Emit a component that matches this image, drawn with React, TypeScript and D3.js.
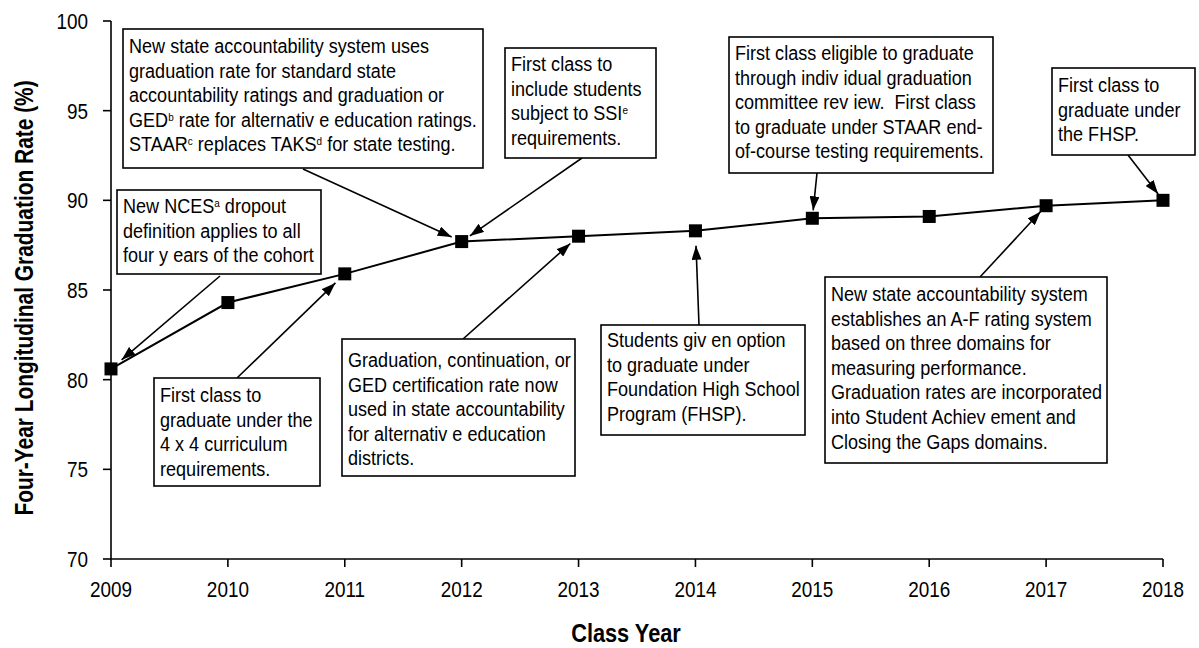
import React from "react";
import * as d3 from "d3";

const years = [2009, 2010, 2011, 2012, 2013, 2014, 2015, 2016, 2017, 2018];
const rates = [80.6, 84.3, 85.9, 87.7, 88.0, 88.3, 89.0, 89.1, 89.7, 90.0];
const yTicks = [70, 75, 80, 85, 90, 95, 100];
const xTitle = "Class Year";
const yTitle = "Four-Year Longitudinal Graduation Rate (%)";

const noteNCES = ["New NCES^a dropout", "definition applies to all", "four y ears of the cohort"];
const note4x4 = ["First class to", "graduate under the", "4 x 4 curriculum", "requirements."];
const noteAcct2012 = [
  "New state accountability system uses",
  "graduation rate for standard state",
  "accountability ratings and graduation or",
  "GED^b rate for alternativ e education ratings.",
  "STAAR^c replaces TAKS^d for state testing.",
];
const noteSSI = ["First class to", "include students", "subject to SSI^e", "requirements."];
const noteAltEd = [
  "Graduation, continuation, or",
  "GED certification rate now",
  "used in state accountability",
  "for alternativ e education",
  "districts.",
];
const noteOption = ["Students giv en option", "to graduate under", "Foundation High School", "Program (FHSP)."];
const noteIGC = [
  "First class eligible to graduate",
  "through indiv idual graduation",
  "committee rev iew.  First class",
  "to graduate under STAAR end-",
  "of-course testing requirements.",
];
const noteAF = [
  "New state accountability system",
  "establishes an A-F rating system",
  "based on three domains for",
  "measuring performance.",
  "Graduation rates are incorporated",
  "into Student Achiev ement and",
  "Closing the Gaps domains.",
];
const noteFHSP = ["First class to", "graduate under", "the FHSP."];

// layout (pixels) for annotation boxes and arrow start points
const layout = [
  { lines: noteNCES, year: 2009, box: [117, 190, 321, 274], y0: 213, from: [220, 276], gap: 14 },
  { lines: note4x4, year: 2011, box: [154, 378, 320, 486], y0: 402, from: [237, 378], gap: 13 },
  { lines: noteAcct2012, year: 2012, box: [123, 29, 483, 168], y0: 53, from: [303, 169], gap: 11 },
  { lines: noteSSI, year: 2012, box: [505, 48, 656, 158], y0: 71, from: [582, 158], gap: 10 },
  { lines: noteAltEd, year: 2013, box: [342, 339, 575, 476], y0: 367, from: [463, 339], gap: 11 },
  { lines: noteOption, year: 2014, box: [601, 325, 805, 435], y0: 347, from: [699, 325], gap: 15 },
  { lines: noteIGC, year: 2015, box: [729, 37, 993, 173], y0: 60, from: [817, 173], gap: 8 },
  { lines: noteAF, year: 2017, box: [825, 277, 1107, 463], y0: 301, from: [980, 277], gap: 8 },
  { lines: noteFHSP, year: 2018, box: [1052, 68, 1195, 155], y0: 92, from: [1128, 155], gap: 8 },
];

const FONT = "'Liberation Sans', Arial, Helvetica, sans-serif";
const SX = 0.86;

function Sup({ line, size }: { line: string; size: number }) {
  const parts = line.split(/\^(\w)/);
  const out: React.ReactNode[] = [];
  let shifted = false;
  parts.forEach((p, i) => {
    if (i % 2 === 1) {
      out.push(
        <tspan key={i} dy={-6} fontSize={size * 0.55}>
          {p}
        </tspan>
      );
      shifted = true;
    } else if (p.length) {
      out.push(
        <tspan key={i} dy={shifted ? 6 : 0}>
          {p}
        </tspan>
      );
      shifted = false;
    }
  });
  return <>{out}</>;
}

export default function App() {
  const W = 1199;
  const H = 648;
  const x = d3.scaleLinear().domain([2009, 2018]).range([111, 1163]);
  const y = d3.scaleLinear().domain([70, 100]).range([559, 21]);
  const line = d3
    .line<number>()
    .x((_, i) => x(years[i]))
    .y((d) => y(d));
  const ms = 13;
  const lh = 24.6;
  const fs = 21;

  return (
    <svg
      width={W}
      height={H}
      style={{ position: "absolute", left: 0, top: 0, background: "#fff" }}
      fontFamily={FONT}
    >
      <defs>
        <marker
          id="ah"
          viewBox="0 0 14 10"
          refX={14}
          refY={5}
          markerWidth={14}
          markerHeight={10}
          markerUnits="userSpaceOnUse"
          orient="auto"
        >
          <path d="M0,0 L14,5 L0,10 Z" fill="#000" />
        </marker>
      </defs>

      {/* axes */}
      <line x1={x(2009)} x2={x(2009)} y1={y(100)} y2={y(70)} stroke="#000" strokeWidth={1.6} />
      <line x1={x(2009)} x2={x(2018)} y1={y(70)} y2={y(70)} stroke="#000" strokeWidth={1.6} />
      {yTicks.map((t) => (
        <g key={t}>
          <line x1={x(2009) - 8} x2={x(2009)} y1={y(t)} y2={y(t)} stroke="#000" strokeWidth={1.6} />
          <text
            transform={`translate(${88},${y(t) + 8}) scale(${SX},1)`}
            textAnchor="end"
            fontSize={22}
            fill="#000"
          >
            {t}
          </text>
        </g>
      ))}
      {years.map((yr) => (
        <g key={yr}>
          <line x1={x(yr)} x2={x(yr)} y1={y(70)} y2={y(70) + 8} stroke="#000" strokeWidth={1.6} />
          <text
            transform={`translate(${x(yr)},${597}) scale(${SX},1)`}
            textAnchor="middle"
            fontSize={22}
            fill="#000"
          >
            {String(yr)}
          </text>
        </g>
      ))}
      <text
        transform={`translate(${(x(2009) + x(2018)) / 2 - 11},${642}) scale(0.87,1)`}
        textAnchor="middle"
        fontSize={25}
        fontWeight="bold"
        fill="#000"
      >
        {xTitle}
      </text>
      <text
        transform={`translate(${33},${298}) rotate(-90) scale(0.82,1)`}
        textAnchor="middle"
        fontSize={25.5}
        fontWeight="bold"
        fill="#000"
      >
        {yTitle}
      </text>

      {/* data */}
      <path d={line(rates) || ""} fill="none" stroke="#000" strokeWidth={2} />
      {rates.map((r, i) => (
        <rect key={i} x={x(years[i]) - ms / 2} y={y(r) - ms / 2} width={ms} height={ms} fill="#000" />
      ))}

      {/* annotations */}
      {layout.map((a, k) => {
        const [x0, y0, x1, y1] = a.box;
        const i = years.indexOf(a.year);
        const px = x(a.year);
        const py = y(rates[i]);
        const dx = a.from[0] - px;
        const dy = a.from[1] - py;
        const len = Math.hypot(dx, dy);
        const tx = px + (dx / len) * a.gap;
        const ty = py + (dy / len) * a.gap;
        return (
          <g key={k}>
            <line
              x1={a.from[0]}
              y1={a.from[1]}
              x2={tx}
              y2={ty}
              stroke="#000"
              strokeWidth={1.6}
              markerEnd="url(#ah)"
            />
            <rect x={x0} y={y0} width={x1 - x0} height={y1 - y0} fill="#fff" stroke="#000" strokeWidth={1.6} />
            {a.lines.map((ln, j) => (
              <text
                key={j}
                transform={`translate(${x0 + 6},${a.y0 + j * lh}) scale(${SX},1)`}
                fontSize={fs}
                fill="#000"
                style={{ whiteSpace: "pre" }}
              >
                <Sup line={ln} size={fs} />
              </text>
            ))}
          </g>
        );
      })}
    </svg>
  );
}
